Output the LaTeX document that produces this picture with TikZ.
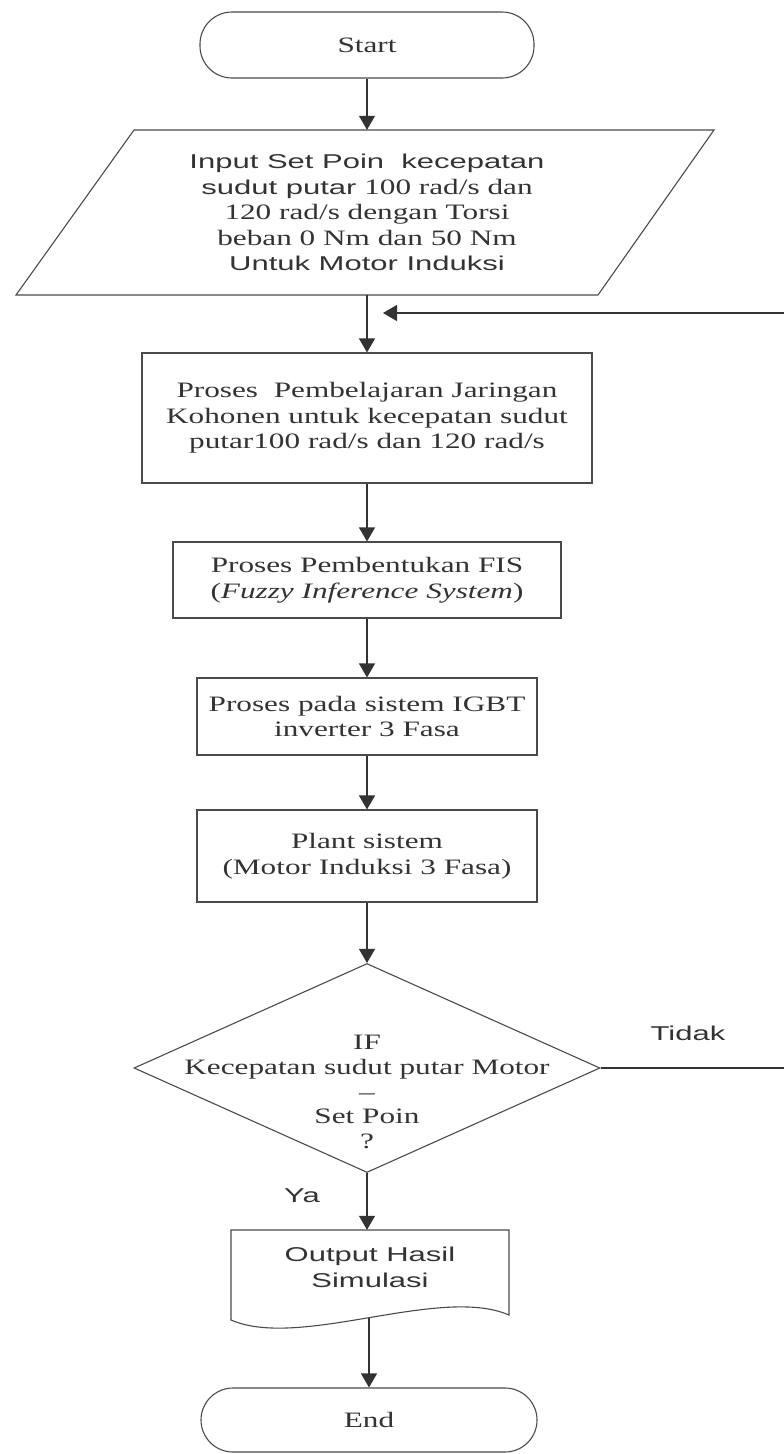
\documentclass[tikz,border=0pt]{standalone}
\usepackage{fontspec}
\setmainfont{Liberation Serif}[FakeStretch=1.42]
\newfontfamily\sansf{Liberation Sans}[FakeStretch=1.55]
\usetikzlibrary{arrows.meta,shapes.geometric}

\definecolor{ink}{HTML}{333333}
\definecolor{edge}{HTML}{4a4a4a}

\begin{document}
\begin{tikzpicture}[x=1pt,y=-1pt,
  every node/.style={text=ink},
  serif/.style={font=\fontsize{22}{25.5}\selectfont},
  sans/.style={font=\sansf\fontsize{20}{25.5}\selectfont},
  shapeline/.style={draw=edge, line width=1.1pt},
  procbox/.style={shapeline, rectangle, inner sep=0pt, align=center, serif},
  termbox/.style={shapeline, rectangle, rounded corners=32pt, inner sep=0pt, serif},
  flow/.style={draw=ink, line width=1.2pt, -{Triangle[width=16pt,length=14pt]}},
  plainline/.style={draw=ink, line width=1.1pt},
]
\useasboundingbox (0,0) rectangle (784,1454);

% terminators
\node[termbox, minimum width=334pt, minimum height=66pt] (start) at (367,45) {Start};
\node[termbox, minimum width=336pt, minimum height=64pt] (finish) at (369,1420) {End};

% input parallelogram
\draw[shapeline] (134,130) -- (714,130) -- (598,295) -- (16,295) -- cycle;
\node[serif, align=center, inner sep=0pt, minimum height=165pt] (input) at (367,212.5)
  {{\sansf\fontsize{20}{25.5}\selectfont Input Set Poin\ \ kecepatan}\\
   {\sansf\fontsize{20}{25.5}\selectfont sudut putar} 100 rad/s dan\\
   120 rad/s dengan Torsi\\
   beban 0 Nm dan 50 Nm\\
   {\sansf\fontsize{20}{25.5}\selectfont Untuk Motor Induksi}};

% process boxes
\node[procbox, minimum width=450pt, minimum height=130pt] (learn) at (367,418)
  {Proses\ \ Pembelajaran Jaringan\\Kohonen untuk kecepatan sudut\\putar100 rad/s dan 120 rad/s};
\node[procbox, minimum width=388pt, minimum height=76pt] (fis) at (367,580)
  {Proses Pembentukan FIS\\(\textit{Fuzzy Inference System})};
\node[procbox, minimum width=340pt, minimum height=77pt] (igbt) at (367,716.5)
  {Proses pada sistem IGBT\\inverter 3 Fasa};
\node[procbox, minimum width=340pt, minimum height=92pt] (plant) at (367,856)
  {Plant sistem\\(Motor Induksi 3 Fasa)};

% decision
\node[shapeline, diamond, minimum width=466pt, minimum height=209pt, inner sep=0pt] (test) at (367,1068) {};
\node[serif, align=center, font=\fontsize{22}{24.8}\selectfont] (testtxt) at (367,1092)
  {IF\\Kecepatan sudut putar Motor\\–\\Set Poin\\?};
\node[sans] (no) at (688,1033) {Tidak};
\node[sans] (yes) at (302,1196) {Ya};

% output document (text node spans from the top edge down)
\draw[shapeline] (231,1230) -- (509,1230) -- (509,1315)
  .. controls (440,1285) and (300,1350) .. (231,1320) -- cycle;
\node[sans, align=center, inner sep=0pt, minimum width=278pt, minimum height=75pt] (report) at (370,1267.5)
  {Output Hasil\\Simulasi};
\coordinate (reportbase) at (369,1318);

% flow
\draw[flow] (start.south) -- (input.north);
\draw[flow] (input.south) -- (learn.north);
\draw[flow] (learn.south) -- (fis.north);
\draw[flow] (fis.south) -- (igbt.north);
\draw[flow] (igbt.south) -- (plant.north);
\draw[flow] (plant.south) -- (test.north);
\draw[flow] (test.south) -- (test.south |- report.north);
\draw[flow] (reportbase) -- (reportbase |- finish.north);

% return path
\coordinate (loopout) at (784,1068);
\coordinate (loopin) at (784,313);
\coordinate (loopend) at (383,313);
\draw[plainline] (test.east) -- (loopout);
\draw[flow] (loopin) -- (loopend);
\end{tikzpicture}
\end{document}
